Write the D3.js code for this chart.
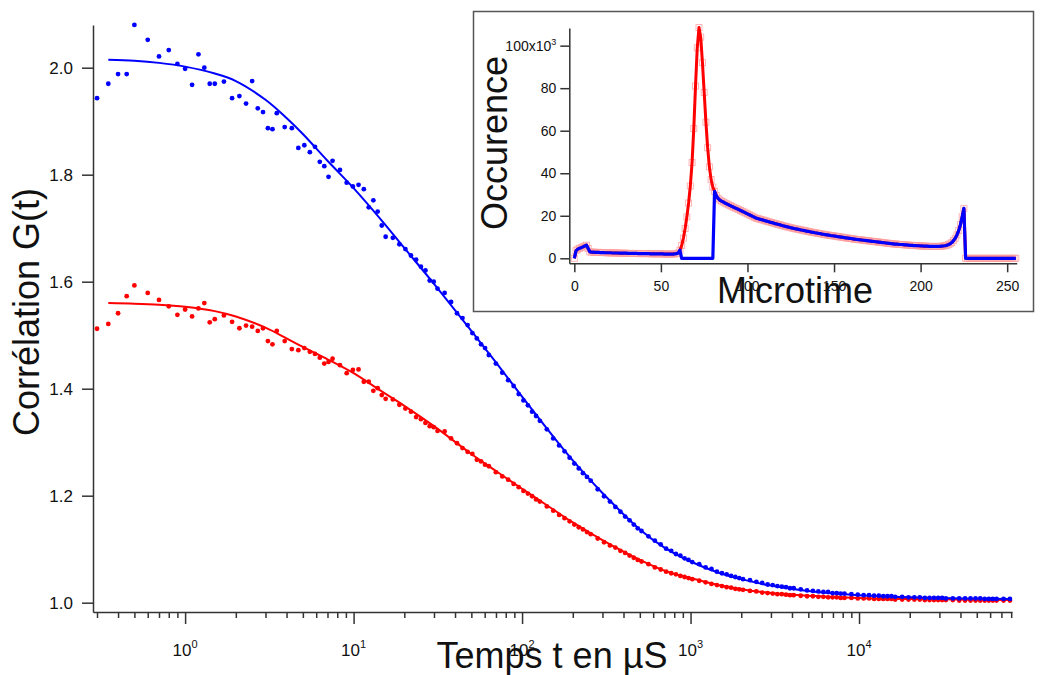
<!DOCTYPE html>
<html><head><meta charset="utf-8">
<script src="https://cdn.jsdelivr.net/npm/d3@7"></script>
<style>
body{margin:0;background:#fff;}
svg{display:block;}
text{font-family:"Liberation Sans", Arial, Helvetica, sans-serif;fill:#111;}
</style>
</head><body>
<svg id="c" width="1040" height="675"></svg>
<script>
// ---------- Main chart data (lag time in µs, correlation G(t)) ----------
const lagTimes = [
  0.30,0.35,0.40,0.45,0.50,
  0.6,0.7,0.8,0.9,1.0,1.1,1.2,1.3,1.4,1.5,
  1.7,1.9,2.1,2.3,2.5,2.7,2.9,3.1,3.3,3.5,
  3.9,4.3,4.7,5.1,5.5,5.9,6.3,6.7,7.1,7.5,
  8.3,9.1,9.9,10.7,11.5,12.3,13.1,13.9,14.7,15.5,
  17.1,18.7,20.3,21.9,23.5,25.1,26.7,28.3,29.9,31.5,
  34.7,37.9,41.1,44.3,47.5,50.7,53.9,57.1,60.3,63.5,
  69.9,76.3,82.7,89.1,95.5,101.9,108.3,114.7,121.1,127.5,
  140.3,153.1,165.9,178.7,191.5,204.3,217.1,229.9,242.7,255.5,
  281.1,306.7,332.3,357.9,383.5,409.1,434.7,460.3,485.9,511.5,
  562.7,613.9,665.1,716.3,767.5,818.7,869.9,921.1,972.3,1023.5,
  1126,1229,1331,1434,1536,1638,1741,1843,1946,2048,
  2253,2458,2662,2867,3072,3277,3482,3686,3891,4096,
  4506,4915,5325,5734,6144,6554,6963,7373,7782,8192,
  9011,9830,10650,11469,12288,13107,13926,14746,15565,16384,
  18022,19661,21299,22938,24576,26214,27853,29491,31130,32768,
  36045,39322,42598,45875,49152,52429,55706,58982,62259,65536,
  72090,78643
];
const blueG = [
  1.943,1.970,1.988,1.988,2.080,
  2.052,2.021,2.033,2.007,1.998,1.968,2.025,2.000,1.970,1.970,
  1.974,1.943,1.947,1.933,1.975,1.924,1.917,1.887,1.885,1.915,
  1.889,1.887,1.850,1.855,1.842,1.852,1.824,1.816,1.796,1.826,
  1.809,1.785,1.778,1.781,1.773,1.739,1.752,1.731,1.705,1.684,
  1.682,1.670,1.661,1.649,1.641,1.628,1.621,1.602,1.600,1.587,
  1.579,1.562,1.541,1.532,1.519,1.504,1.494,1.483,1.476,1.463,
  1.447,1.430,1.416,1.405,1.390,1.378,1.369,1.357,1.349,1.340,
  1.324,1.307,1.294,1.283,1.271,1.260,1.251,1.242,1.235,1.228,
  1.212,1.199,1.189,1.179,1.170,1.161,1.154,1.146,1.139,1.134,
  1.124,1.116,1.109,1.101,1.097,1.091,1.088,1.083,1.080,1.076,
  1.072,1.066,1.063,1.058,1.055,1.053,1.050,1.048,1.046,1.044,
  1.042,1.039,1.037,1.034,1.033,1.031,1.030,1.029,1.027,1.027,
  1.025,1.023,1.022,1.021,1.020,1.020,1.018,1.018,1.017,1.017,
  1.016,1.015,1.014,1.014,1.013,1.013,1.012,1.012,1.012,1.011,
  1.011,1.010,1.010,1.010,1.009,1.009,1.009,1.009,1.009,1.008,
  1.008,1.008,1.008,1.008,1.008,1.008,1.007,1.007,1.007,1.007,
  1.007,1.007
];
const redG = [
  1.512,1.521,1.541,1.573,1.593,
  1.579,1.566,1.554,1.538,1.548,1.535,1.550,1.560,1.524,1.530,
  1.537,1.525,1.513,1.518,1.516,1.508,1.513,1.489,1.483,1.508,
  1.489,1.474,1.472,1.476,1.469,1.465,1.458,1.447,1.450,1.456,
  1.444,1.429,1.435,1.436,1.413,1.413,1.396,1.401,1.388,1.381,
  1.380,1.370,1.363,1.357,1.347,1.343,1.336,1.330,1.328,1.321,
  1.320,1.307,1.298,1.289,1.282,1.278,1.267,1.264,1.258,1.255,
  1.244,1.236,1.230,1.222,1.216,1.209,1.204,1.199,1.193,1.189,
  1.180,1.172,1.164,1.158,1.152,1.146,1.141,1.137,1.132,1.128,
  1.120,1.113,1.107,1.103,1.097,1.093,1.088,1.084,1.080,1.077,
  1.072,1.066,1.062,1.058,1.055,1.053,1.050,1.048,1.046,1.044,
  1.041,1.038,1.035,1.033,1.031,1.029,1.028,1.026,1.025,1.024,
  1.022,1.021,1.019,1.018,1.017,1.016,1.016,1.015,1.014,1.014,
  1.013,1.012,1.012,1.011,1.011,1.010,1.010,1.010,1.009,1.009,
  1.009,1.008,1.008,1.008,1.007,1.007,1.007,1.007,1.007,1.006,
  1.006,1.006,1.006,1.006,1.005,1.005,1.005,1.005,1.005,1.005,
  1.005,1.004,1.004,1.004,1.004,1.004,1.004,1.004,1.004,1.004,
  1.004,1.004
];
// fitted curves
const fitTimes = [0.35,0.5,0.7,1,1.5,2,3,4,5,7,10,15,20,30,50,70,100,150,200,300,500,700,1000,1500,2000,3000,5000,10000,20000,40000,80000];
const fitBlue  = [2.015,2.013,2.009,2.002,1.989,1.975,1.940,1.906,1.876,1.826,1.775,1.711,1.663,1.596,1.508,1.449,1.385,1.314,1.266,1.205,1.137,1.103,1.077,1.055,1.044,1.032,1.022,1.014,1.010,1.008,1.007];
const fitRed   = [1.560,1.559,1.557,1.553,1.545,1.535,1.514,1.494,1.478,1.455,1.429,1.393,1.368,1.330,1.278,1.246,1.213,1.176,1.150,1.117,1.080,1.060,1.046,1.032,1.025,1.018,1.013,1.009,1.007,1.006,1.005];
const yTickValues = [1.0,1.2,1.4,1.6,1.8,2.0];
const xDecades = [1,10,100,1000,10000];
const xDecadeExp = ["0","1","2","3","4"];

// ---------- Inset data (microtime histogram, in units of 10^3) ----------
const redCounts = [
  0.0,3.6,4.3,4.7,5.0,5.4,5.8,6.2,4.6,3.0,
  2.9,2.9,2.8,2.8,2.8,2.7,2.7,2.7,2.6,2.6,
  2.6,2.6,2.5,2.5,2.5,2.5,2.4,2.4,2.4,2.4,
  2.4,2.3,2.3,2.3,2.3,2.3,2.3,2.2,2.2,2.2,
  2.2,2.2,2.2,2.2,2.1,2.1,2.1,2.1,2.1,2.1,
  2.1,2.1,2.0,2.0,2.0,2.0,2.0,2.0,2.1,2.2,
  2.5,3.8,6.0,9.5,14,19.5,26,34,45,61,
  81,99,108.5,104,92,78,64,52,43,37,
  33.5,31.5,29.5,28.2,27.4,26.9,26.5,26.0,25.6,25.2,
  24.8,24.4,24.0,23.6,23.3,22.9,22.5,22.1,21.7,21.3,
  20.9,20.5,20.1,19.7,19.3,18.9,18.7,18.4,18.2,18.0,
  17.7,17.5,17.3,17.0,16.8,16.6,16.3,16.1,15.9,15.7,
  15.4,15.2,15.0,14.8,14.6,14.4,14.2,14.0,13.8,13.7,
  13.5,13.3,13.2,13.0,12.8,12.7,12.5,12.3,12.2,12.0,
  11.9,11.7,11.6,11.4,11.3,11.1,11.0,10.9,10.7,10.6,
  10.5,10.4,10.2,10.1,10.0,9.9,9.7,9.6,9.5,9.4,
  9.3,9.1,9.0,8.9,8.8,8.7,8.6,8.5,8.4,8.3,
  8.2,8.1,8.0,7.9,7.8,7.7,7.6,7.5,7.4,7.3,
  7.2,7.1,7.0,6.9,6.8,6.7,6.7,6.6,6.5,6.5,
  6.4,6.3,6.3,6.2,6.1,6.1,6.0,6.0,5.9,5.9,
  5.8,5.8,5.7,5.7,5.7,5.6,5.6,5.6,5.6,5.6,
  5.6,5.6,5.7,5.8,5.9,6.1,6.4,6.8,7.4,8.3,
  9.4,11.0,13.0,15.8,19.5,23.5,0,0,0,0,
  0,0,0,0,0,0,0,0,0,0,
  0,0,0,0,0,0,0,0,0,0,
  0,0,0,0,0,0
];
const blueCounts = [
  0.0,3.6,4.3,4.7,5.0,5.4,5.8,6.2,4.6,3.0,
  2.9,2.9,2.8,2.8,2.8,2.7,2.7,2.7,2.6,2.6,
  2.6,2.6,2.5,2.5,2.5,2.5,2.4,2.4,2.4,2.4,
  2.4,2.3,2.3,2.3,2.3,2.3,2.3,2.2,2.2,2.2,
  2.2,2.2,2.2,2.2,2.1,2.1,2.1,2.1,2.1,2.1,
  2.1,2.1,2.0,2.0,2.0,2.0,2.0,2.0,2.1,2.2,
  2.5,3.8,0,0,0,0,0,0,0,0,
  0,0,0,0,0,0,0,0,0,0,
  0,31.5,29.5,28.2,27.4,26.9,26.5,26.0,25.6,25.2,
  24.8,24.4,24.0,23.6,23.3,22.9,22.5,22.1,21.7,21.3,
  20.9,20.5,20.1,19.7,19.3,18.9,18.7,18.4,18.2,18.0,
  17.7,17.5,17.3,17.0,16.8,16.6,16.3,16.1,15.9,15.7,
  15.4,15.2,15.0,14.8,14.6,14.4,14.2,14.0,13.8,13.7,
  13.5,13.3,13.2,13.0,12.8,12.7,12.5,12.3,12.2,12.0,
  11.9,11.7,11.6,11.4,11.3,11.1,11.0,10.9,10.7,10.6,
  10.5,10.4,10.2,10.1,10.0,9.9,9.7,9.6,9.5,9.4,
  9.3,9.1,9.0,8.9,8.8,8.7,8.6,8.5,8.4,8.3,
  8.2,8.1,8.0,7.9,7.8,7.7,7.6,7.5,7.4,7.3,
  7.2,7.1,7.0,6.9,6.8,6.7,6.7,6.6,6.5,6.5,
  6.4,6.3,6.3,6.2,6.1,6.1,6.0,6.0,5.9,5.9,
  5.8,5.8,5.7,5.7,5.7,5.6,5.6,5.6,5.6,5.6,
  5.6,5.6,5.7,5.8,5.9,6.1,6.4,6.8,7.4,8.3,
  9.4,11.0,13.0,15.8,19.5,23.5,0,0,0,0,
  0,0,0,0,0,0,0,0,0,0,
  0,0,0,0,0,0,0,0,0,0,
  0,0,0,0,0,0
];
const insetYTicks = [0,20,40,60,80,100];
const insetXTicks = [0,50,100,150,200,250];

const BLUE = "#0000ff", RED = "#ff0000", AX = "#333333";
const svg = d3.select("#c");

// ================= MAIN CHART =================
const x = d3.scaleLog().domain([0.284, 80900]).range([93, 1012]);
const y = d3.scaleLinear().domain([0.9826, 2.0798]).range([612, 25]);

function styleAxis(g, size) {
  g.select(".domain").attr("stroke", AX).attr("stroke-width", 1.5);
  g.selectAll(".tick line").attr("stroke", AX).attr("stroke-width", 1.5);
  g.selectAll(".tick text").attr("font-size", size).attr("fill", "#111")
   .attr("font-family", '"Liberation Sans", Arial, sans-serif');
  g.attr("font-family", null).attr("font-size", null);
}

// y axis
const gy = svg.append("g").attr("transform", "translate(93,0)")
  .call(d3.axisLeft(y).tickValues(yTickValues).tickSize(11).tickSizeOuter(0)
        .tickPadding(9).tickFormat(d3.format(".1f")));
styleAxis(gy, 17);

// x axis (log, major + minor ticks)
const allX = x.ticks();
const isDecade = v => Math.abs(Math.log10(v) - Math.round(Math.log10(v))) < 1e-6;
const gx = svg.append("g").attr("transform", "translate(0,612)")
  .call(d3.axisBottom(x).tickValues(allX).tickSize(6).tickSizeOuter(0).tickFormat(""));
styleAxis(gx, 17);
gx.selectAll(".tick line").attr("y2", d => isDecade(d) ? 12 : 6);
// decade labels with superscripts
xDecades.forEach((v, i) => {
  const t = svg.append("text").attr("x", x(v)).attr("y", 656)
    .attr("text-anchor", "middle").attr("font-size", 17);
  t.append("tspan").text("10");
  t.append("tspan").attr("font-size", 11).attr("dy", -8).text(xDecadeExp[i]);
});

// fits
const fitLine = arr => d3.line()
  .x((d, i) => x(fitTimes[i])).y((d, i) => y(arr[i]))
  .curve(d3.curveCatmullRom.alpha(0.5))(arr);
svg.append("path").attr("d", fitLine(fitRed)).attr("fill", "none")
  .attr("stroke", RED).attr("stroke-width", 2);
svg.append("path").attr("d", fitLine(fitBlue)).attr("fill", "none")
  .attr("stroke", BLUE).attr("stroke-width", 2);

// points
svg.append("g").selectAll("circle").data(redG).join("circle")
  .attr("cx", (d, i) => x(lagTimes[i])).attr("cy", d => y(d))
  .attr("r", 2.4).attr("fill", RED);
svg.append("g").selectAll("circle").data(blueG).join("circle")
  .attr("cx", (d, i) => x(lagTimes[i])).attr("cy", d => y(d))
  .attr("r", 2.4).attr("fill", BLUE);

// axis titles
svg.append("text").attr("x", 552).attr("y", 668).attr("text-anchor", "middle")
  .attr("font-size", 36).text("Temps t en µS");
svg.append("text").attr("transform", "translate(39,312) rotate(-90)")
  .attr("text-anchor", "middle").attr("font-size", 36).text("Corrélation G(t)");

// ================= INSET =================
svg.append("rect").attr("x", 473.5).attr("y", 11.5).attr("width", 560).attr("height", 300)
  .attr("fill", "#fff").attr("stroke", "#555").attr("stroke-width", 1.5);

const xi = d3.scaleLinear().domain([-2.9, 255.5]).range([569.3, 1016.7]);
const yi = d3.scaleLinear().domain([-2.35, 108.3]).range([263.3, 28]);
const bins = d3.range(redCounts.length);

const gyi = svg.append("g").attr("transform", "translate(569.3,0)")
  .call(d3.axisLeft(yi).tickValues(insetYTicks).tickSize(9).tickSizeOuter(0)
        .tickPadding(4).tickFormat(d => d === 100 ? "" : d));
styleAxis(gyi, 14);
gyi.selectAll(".tick").filter(d => d === 100).select("text")
  .call(t => { t.append("tspan").text("100x10");
               t.append("tspan").attr("font-size", 9).attr("dy", -6).text("3"); });

const gxi = svg.append("g").attr("transform", "translate(0,263.3)")
  .call(d3.axisBottom(xi).tickValues(insetXTicks).tickSize(9).tickSizeOuter(0).tickPadding(9));
styleAxis(gxi, 14);

// markers (light red hollow squares on the red trace)
svg.append("g").selectAll("rect").data(redCounts).join("rect")
  .attr("x", (d, i) => xi(bins[i]) - 3).attr("y", d => yi(d) - 3)
  .attr("width", 6).attr("height", 6)
  .attr("fill", "none").attr("stroke", "#ff9a9a").attr("stroke-width", 0.9).attr("opacity", 0.8);

const histLine = arr => d3.line().x((d, i) => xi(bins[i])).y(d => yi(d))(arr);
svg.append("path").attr("d", histLine(redCounts)).attr("fill", "none")
  .attr("stroke", RED).attr("stroke-width", 3).attr("stroke-linejoin", "round");
svg.append("path").attr("d", histLine(blueCounts)).attr("fill", "none")
  .attr("stroke", BLUE).attr("stroke-width", 3.2).attr("stroke-linejoin", "round");

svg.append("text").attr("x", 795).attr("y", 303).attr("text-anchor", "middle")
  .attr("font-size", 36).text("Microtime");
svg.append("text").attr("transform", "translate(507,143) rotate(-90)")
  .attr("text-anchor", "middle").attr("font-size", 36).text("Occurence");
</script>
</body></html>
